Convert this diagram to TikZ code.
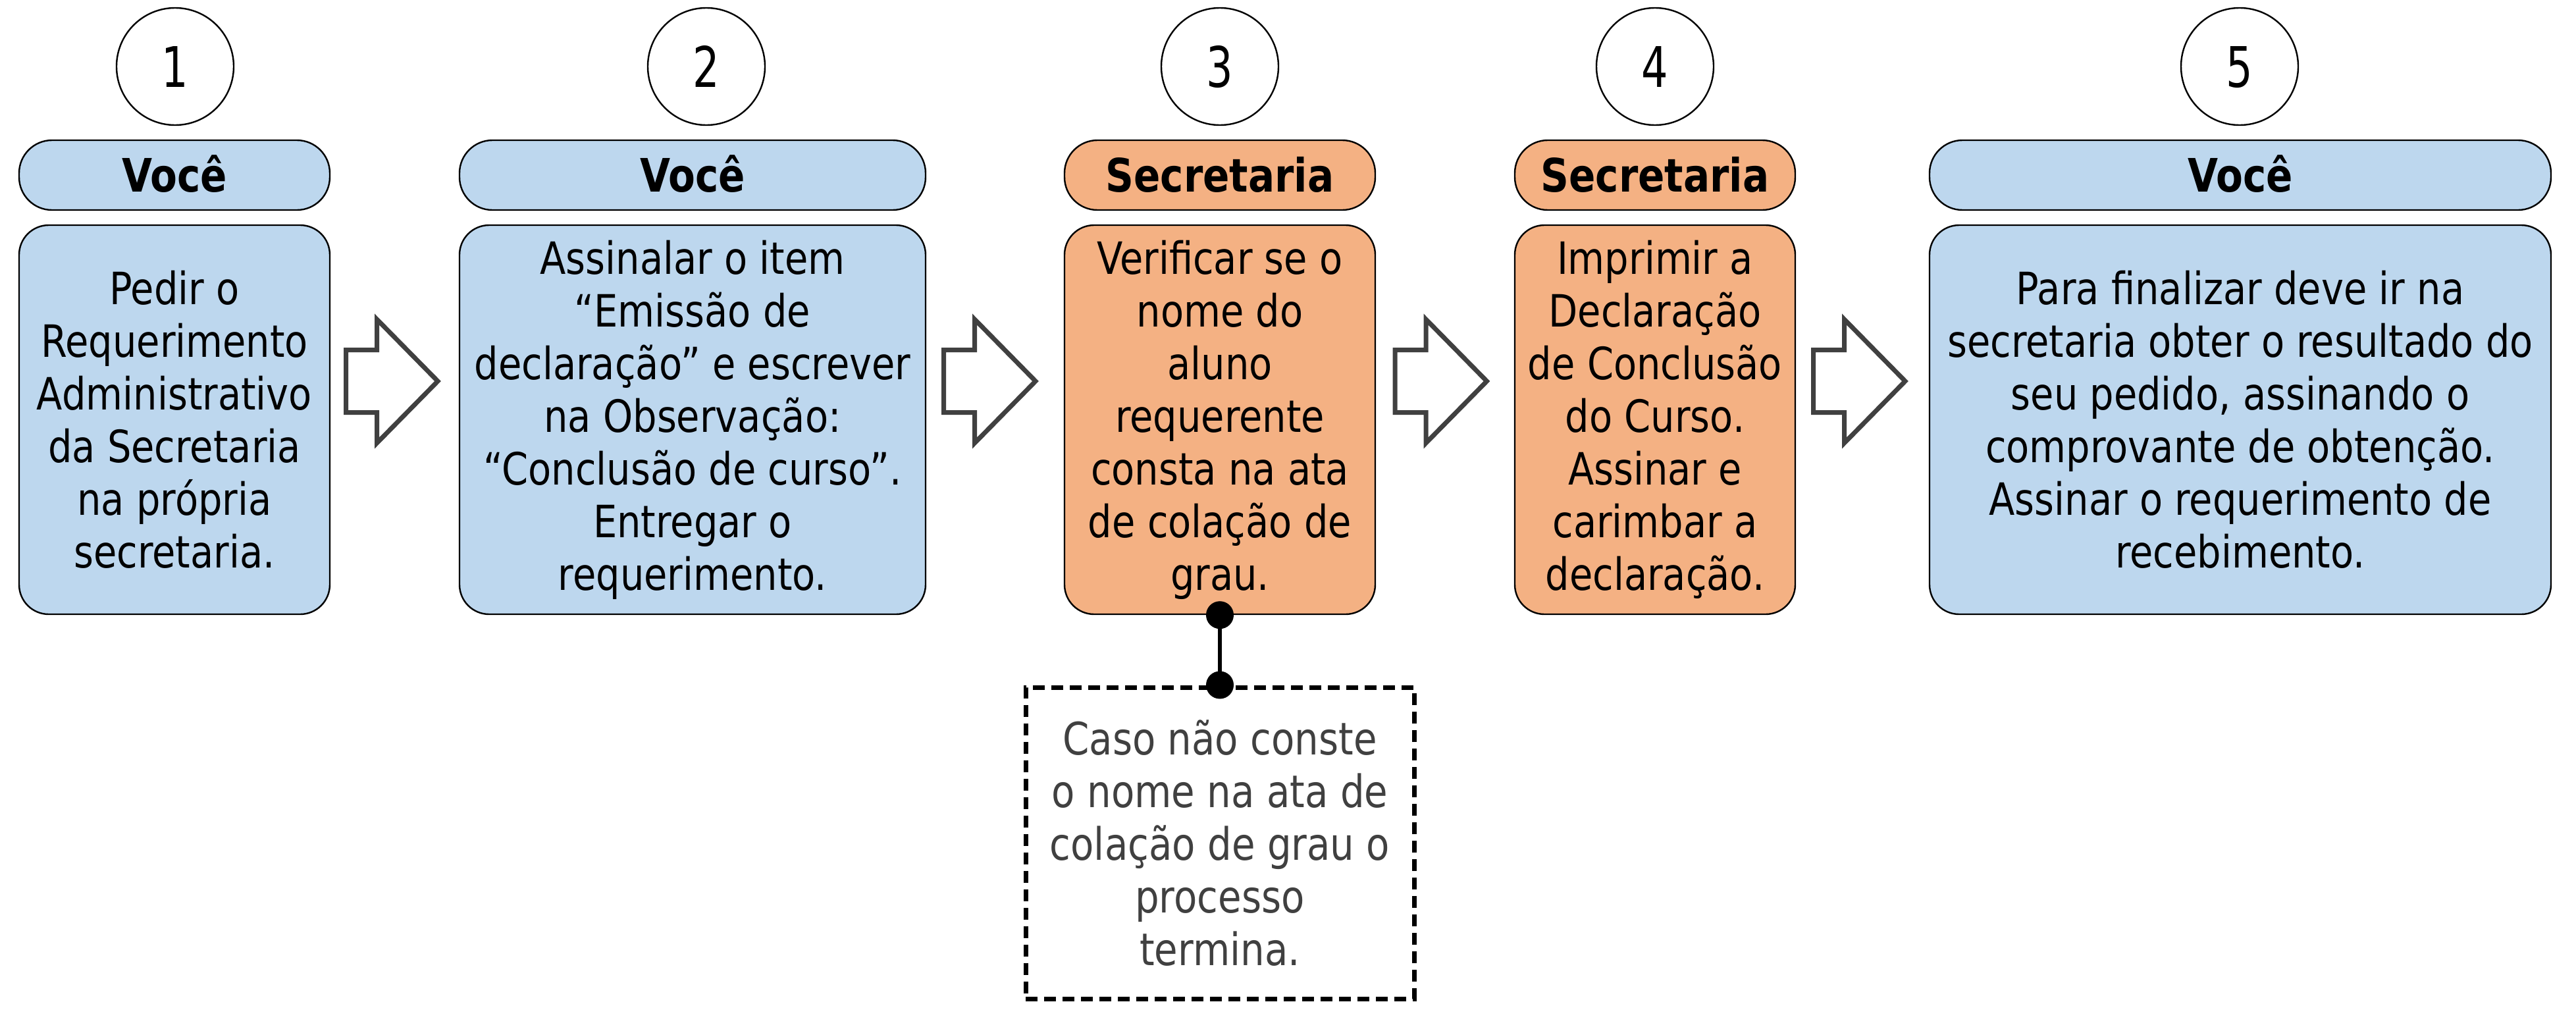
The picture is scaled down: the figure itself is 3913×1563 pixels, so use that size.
\documentclass[tikz,border=0pt]{standalone}
\usepackage{fontspec}
\setmainfont{DejaVu Sans}[FakeStretch=0.85]
\newfontfamily\numfont{DejaVu Sans}[FakeStretch=0.75]
\definecolor{bluefill}{RGB}{189,215,238}
\definecolor{orangefill}{RGB}{244,177,131}
\definecolor{arrowgray}{RGB}{64,64,64}
\definecolor{notegray}{RGB}{64,64,64}
\begin{document}
\begin{tikzpicture}[x=0.25pt,y=-0.25pt,
  blk/.style={draw=black,line width=0.6pt,inner sep=0pt,align=center},
  hdr/.style={blk,rounded corners=12.5pt,minimum height=26.5pt,
    font=\fontsize{17.5pt}{20pt}\selectfont\bfseries,text height=12.8pt,text depth=0pt},
  body/.style={blk,rounded corners=11.25pt,minimum height=147.75pt,
    font=\fontsize{16.9pt}{20pt}\selectfont},
  you/.style={fill=bluefill},
  sec/.style={fill=orangefill},
  num/.style={circle,draw=black,line width=0.6pt,fill=white,minimum size=44.5pt,inner sep=0pt,
    font={\numfont\fontsize{21.25pt}{24pt}\selectfont},text height=15.5pt,text depth=0pt},
  note/.style={draw=black,line width=1.75pt,dash pattern=on 4.5pt off 2.5pt,inner sep=0pt,
    minimum width=147.5pt,minimum height=118.25pt,align=center,text=notegray,
    font=\fontsize{17pt}{20pt}\selectfont},
  blockarrow/.style={draw=arrowgray,line width=1.75pt,fill=white,miter limit=12}]
\fill[white] (0,0) rectangle (3913,1563);
\useasboundingbox (0,0) rectangle (3913,1563);

% number circles
\node[num] (n1) at (266,101) {1};
\node[num] (n2) at (1073,101) {2};
\node[num] (n3) at (1853,101) {3};
\node[num] (n4) at (2514,101) {4};
\node[num] (n5) at (3402,101) {5};

% headers
\node[hdr,you,minimum width=118pt] (h1) at (265,266) {Você};
\node[hdr,you,minimum width=177pt] (h2) at (1052,266) {Você};
\node[hdr,sec,minimum width=118pt] (h3) at (1853,266) {Secretaria};
\node[hdr,sec,minimum width=106.5pt] (h4) at (2514,266) {Secretaria};
\node[hdr,you,minimum width=236pt] (h5) at (3403,266) {Você};

% bodies
\node[body,you,minimum width=118pt] (b1) at (265,637.5)
  {Pedir o\\Requerimento\\Administrativo\\da Secretaria\\na própria\\secretaria.};
\node[body,you,minimum width=177pt] (b2) at (1052,637.5)
  {Assinalar o item\\“Emissão de\\declaração” e escrever\\na Observação:\\“Conclusão de curso”.\\Entregar o\\requerimento.};
\node[body,sec,minimum width=118pt] (b3) at (1853,637.5)
  {Verificar se o\\nome do\\aluno\\requerente\\consta na ata\\de colação de\\grau.};
\node[body,sec,minimum width=106.5pt] (b4) at (2514,637.5)
  {Imprimir a\\Declaração\\de Conclusão\\do Curso.\\Assinar e\\carimbar a\\declaração.};
\node[body,you,minimum width=236pt] (b5) at (3403,637.5)
  {Para finalizar deve ir na\\secretaria obter o resultado do\\seu pedido, assinando o\\comprovante de obtenção.\\Assinar o requerimento de\\recebimento.};

% block arrows
\foreach \L in {525.5,1433.5,2119,2754.5}{
  \begin{scope}[shift={(\L,579)}]
    \draw[blockarrow] (0,-47.5) -- (47,-47.5) -- (47,-94) -- (139.5,0)
      -- (47,94) -- (47,47.5) -- (0,47.5) -- cycle;
  \end{scope}
}

% note
\node[note] (note) at (1853,1280.5)
  {Caso não conste\\o nome na ata de\\colação de grau o\\processo\\termina.};
\draw[line width=1.5pt] (b3.south) -- (note.north);
\fill (b3.south) circle[radius=5.25pt];
\fill (note.north) circle[radius=5.25pt];
\end{tikzpicture}
\end{document}
